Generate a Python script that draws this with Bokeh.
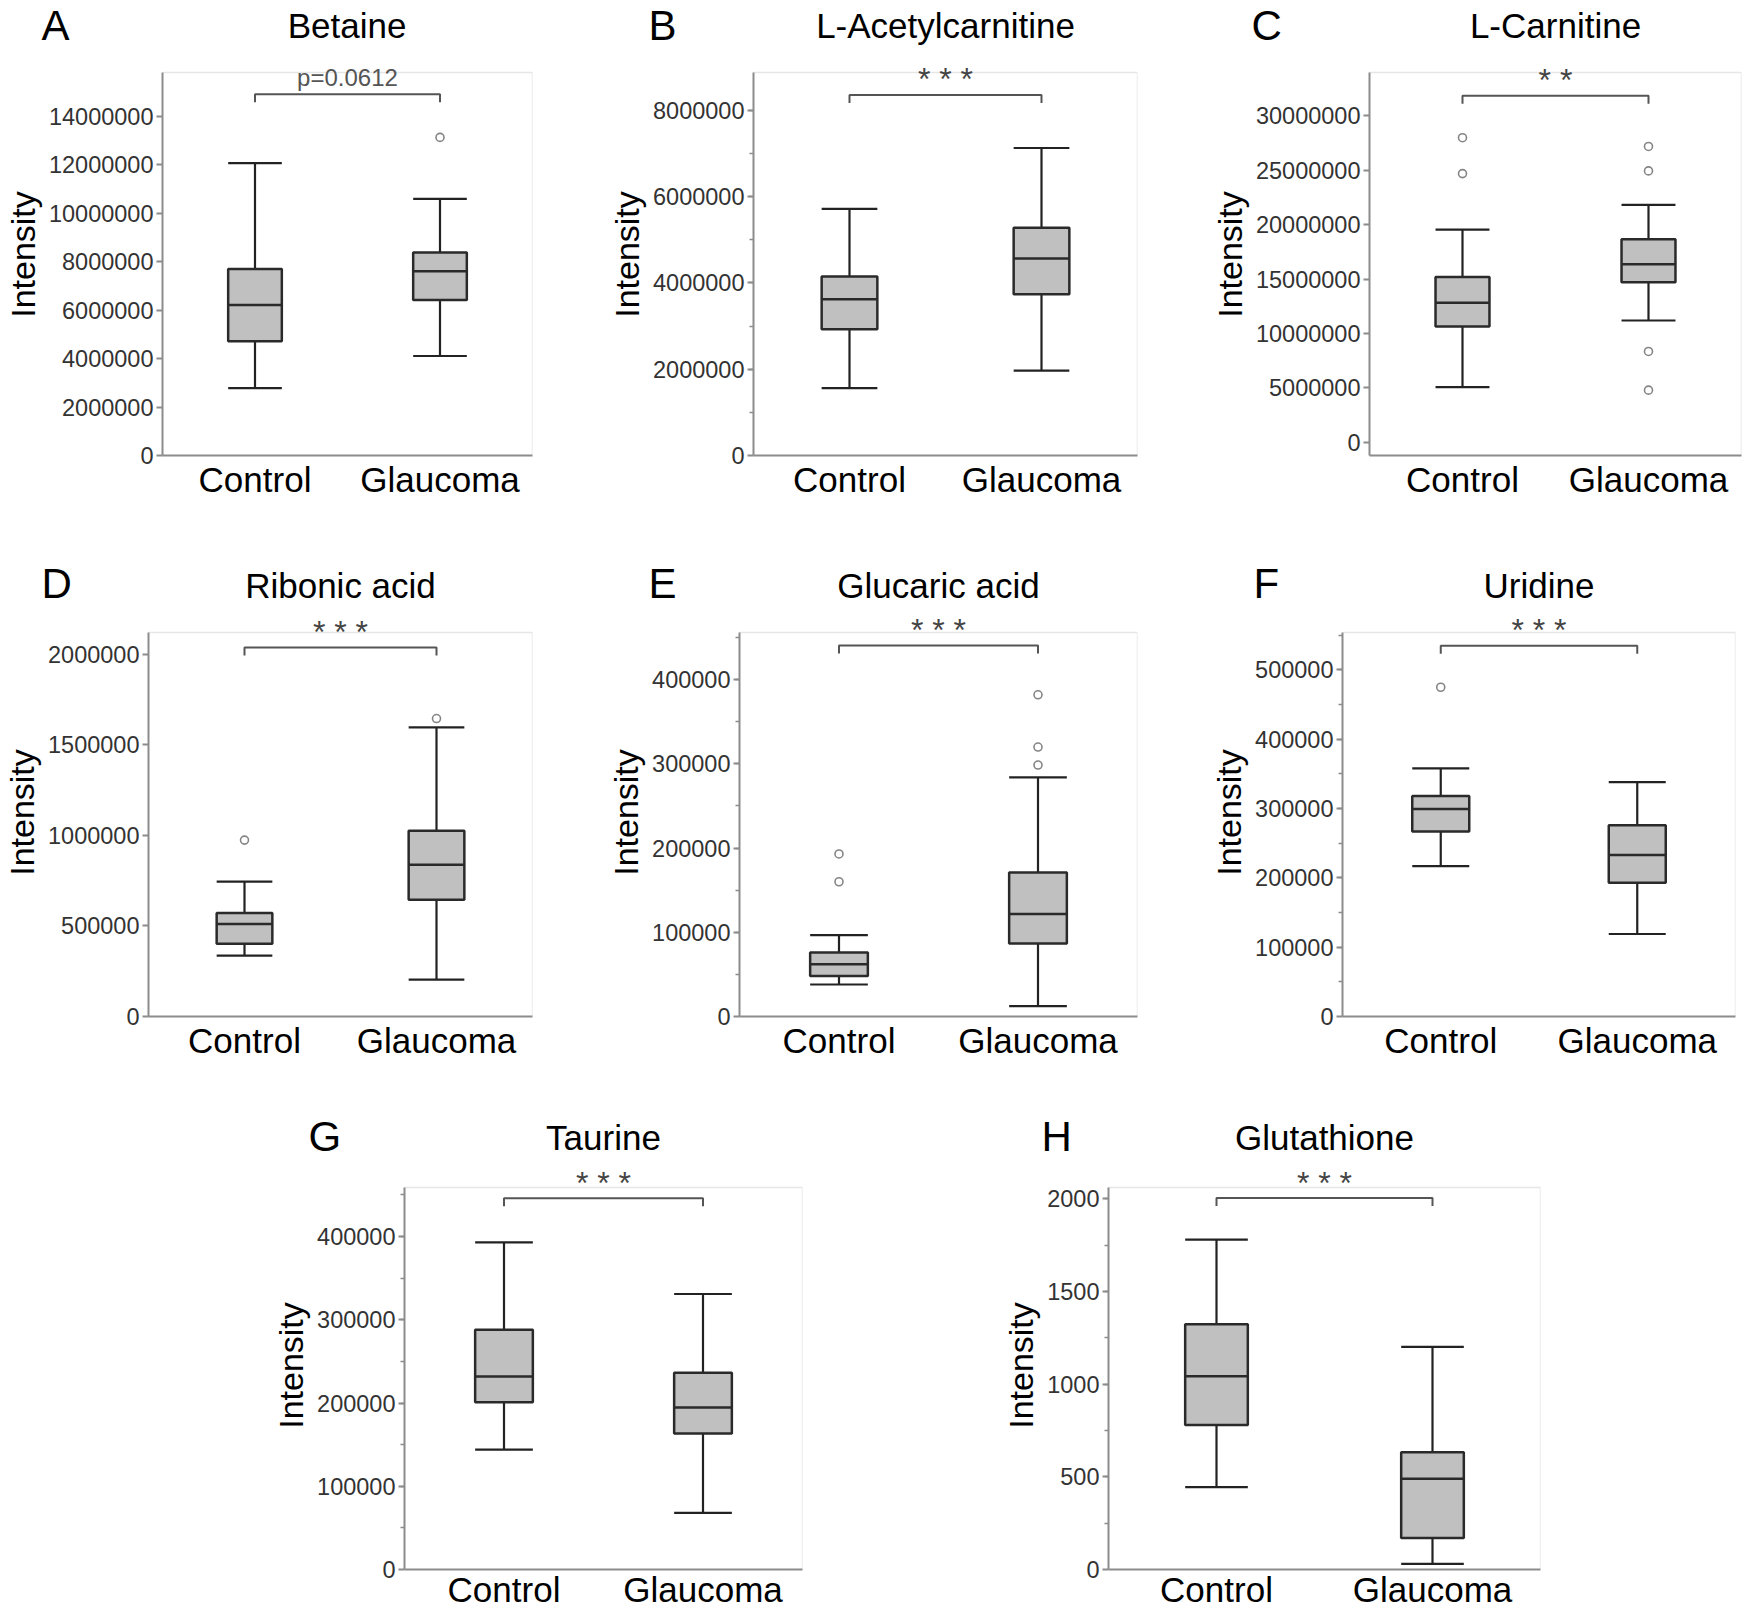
from bokeh.plotting import figure
from bokeh.models import (FactorRange, Range1d, FixedTicker, NumeralTickFormatter,
                          Label, Spacer, ColumnDataSource)
from bokeh.transform import dodge
from bokeh.layouts import row, column
from bokeh.embed import file_html
from bokeh.resources import INLINE
from bokeh.core.properties import value

# ---------------- data ----------------
categories = ["Control", "Glaucoma"]
panel_letters = ["A", "B", "C", "D", "E", "F", "G", "H"]
metabolites = ["Betaine", "L-Acetylcarnitine", "L-Carnitine", "Ribonic acid",
               "Glucaric acid", "Uridine", "Taurine", "Glutathione"]
significance = ["p=0.0612", "* * *", "* *", "* * *", "* * *", "* * *", "* * *", "* * *"]

control_whisker_low = [2.78e6, 1.56e6, 5.06e6, 336000, 38000, 217000, 144000, 444]
control_q1 = [4.72e6, 2.93e6, 10.63e6, 401000, 48000, 267000, 201000, 780]
control_median = [6.22e6, 3.62e6, 12.81e6, 511000, 62000, 299500, 232000, 1043]
control_q3 = [7.70e6, 4.15e6, 15.2e6, 572000, 76000, 318000, 288000, 1323]
control_whisker_high = [12.08e6, 5.72e6, 19.55e6, 745000, 96600, 358000, 393000, 1780]
control_outliers = [[], [], [28.0e6, 24.7e6], [974000], [193000, 160000], [475000], [], []]

glaucoma_whisker_low = [4.11e6, 1.97e6, 11.19e6, 204000, 12300, 119000, 68000, 30]
glaucoma_q1 = [6.42e6, 3.74e6, 14.71e6, 645000, 86700, 193000, 163500, 170]
glaucoma_median = [7.61e6, 4.57e6, 16.37e6, 838000, 121700, 233000, 194600, 489]
glaucoma_q3 = [8.39e6, 5.28e6, 18.66e6, 1026000, 171000, 276000, 236500, 633]
glaucoma_whisker_high = [10.6e6, 7.13e6, 21.82e6, 1596000, 284000, 338000, 331000, 1201]
glaucoma_outliers = [[13.14e6], [], [27.2e6, 24.95e6, 8.34e6, 4.78e6], [1645000],
                     [382000, 320000, 298600], [], [], []]

# y axis ticks (labels) per panel
y_tick_step = [2000000, 2000000, 5000000, 500000, 100000, 100000, 100000, 500]
y_tick_max = [14000000, 8000000, 30000000, 2000000, 400000, 500000, 400000, 2000]
y_minor_step = [None, 1000000, None, None, 50000, 50000, 50000, 250]

# ---------------- layout / style config ----------------
y_axis_bottom = [0, 0, -1.23e6, 0, 0, 0, 0, 0]
y_axis_top = [15.82e6, 8.88e6, 34.0e6, 2.12e6, 456000, 554000, 459000, 2061]
bracket_y = [14.92e6, 8.36e6, 31.87e6, 2.037e6, 440500, 535000, 446000, 2004]

PAGE_W = 1750
# per panel (page px): fig_left, fig_width, frame_left, frame_right
cols = [(0, 595, 161, 532), (595, 600, 753, 1137), (1195, 555, 1369, 1741),
        (0, 595, 148, 532), (595, 600, 739, 1137), (1195, 555, 1342, 1735),
        (250, 650, 404, 802), (900, 850, 1108, 1540)]
# per row: header_top, header_h, panel_top, panel_h, axis_top_px, frame_bottom_px,
#          xlabel standoff, star offset (px above bracket)
rows_geo = [(0, 53, 53, 477, 72, 455, 4, 16),
            (530, 78, 608, 482, 632, 1016, 4, 16),
            (1090, 71, 1161, 450, 1187, 1570, 0, 15)]
panel_row = [0, 0, 0, 1, 1, 1, 2, 2]
# letter: left x, vertical centre (page px); title vertical centre
letter_pos = [(41, 25), (648, 25), (1251, 25), (41, 583), (648, 583), (1253, 583),
              (308, 1136), (1041, 1136)]
title_center_y = [24.5, 24.5, 24.5, 585, 585, 585, 1137, 1137]

FONT = "Liberation Sans"
AXIS_GRAY = "#8c8c8c"
BOX_W = 0.29


def make_header(r):
    ht, hh = rows_geo[r][0], rows_geo[r][1]
    idx = [i for i in range(8) if panel_row[i] == r]
    h = figure(width=PAGE_W, height=hh, x_range=Range1d(0, PAGE_W), y_range=Range1d(hh, 0),
               output_backend="svg", toolbar_location=None, x_axis_type=None, y_axis_type=None,
               min_border=0, min_border_left=0, min_border_right=0, min_border_top=0,
               min_border_bottom=0)
    h.outline_line_color = None
    h.grid.visible = False
    h.text(x=[letter_pos[i][0] for i in idx], y=[letter_pos[i][1] - ht for i in idx],
           text=[panel_letters[i] for i in idx], text_font=value(FONT), text_font_size="42px",
           text_align="left", text_baseline="middle", text_color="black")
    h.text(x=[(cols[i][2] + cols[i][3]) / 2 for i in idx],
           y=[title_center_y[i] - ht for i in idx],
           text=[metabolites[i] for i in idx], text_font=value(FONT), text_font_size="35px",
           text_align="center", text_baseline="middle", text_color="black")
    return h


def make_panel(i):
    fl, fw, frl, frr = cols[i]
    _, _, pt, ph, at, frb, xstand, star_off = rows_geo[panel_row[i]]
    ybot, ytop = y_axis_bottom[i], y_axis_top[i]
    px = (ytop - ybot) / (frb - at)
    yend = ytop + (at - pt) * px
    p = figure(width=fw, height=ph,
               x_range=FactorRange(*categories),
               y_range=Range1d(ybot, yend),
               output_backend="svg", toolbar_location=None,
               min_border_left=frl - fl, min_border_right=fl + fw - frr,
               min_border_top=0, min_border_bottom=pt + ph - frb)
    p.xgrid.visible = False
    p.ygrid.visible = False
    p.outline_line_color = None
    p.background_fill_color = "white"
    p.border_fill_color = "white"

    # y axis
    yax = p.yaxis[0]
    majors = list(range(0, y_tick_max[i] + 1, y_tick_step[i]))
    minors = []
    if y_minor_step[i]:
        v = y_minor_step[i]
        while v <= ytop:
            minors.append(v)
            v += y_minor_step[i]
    yax.ticker = FixedTicker(ticks=majors, minor_ticks=minors)
    yax.bounds = (ybot, ytop)
    yax.formatter = NumeralTickFormatter(format="0")
    yax.axis_label = "Intensity"
    yax.axis_label_text_font = FONT
    yax.axis_label_text_font_size = "34px"
    yax.axis_label_text_font_style = "normal"
    yax.axis_label_text_color = "black"
    yax.axis_label_standoff = 4
    yax.major_label_text_font = FONT
    yax.major_label_text_font_size = "23.5px"
    yax.major_label_text_color = "#333333"
    yax.major_label_standoff = 3
    yax.axis_line_color = AXIS_GRAY
    yax.axis_line_width = 2
    yax.major_tick_line_color = AXIS_GRAY
    yax.major_tick_line_width = 2
    yax.major_tick_out = 6
    yax.major_tick_in = 0
    yax.minor_tick_line_color = AXIS_GRAY if minors else None
    yax.minor_tick_line_width = 1.5
    yax.minor_tick_out = 4
    yax.minor_tick_in = 0

    # x axis
    xax = p.xaxis[0]
    xax.axis_line_color = AXIS_GRAY
    xax.axis_line_width = 2
    xax.major_tick_line_color = None
    xax.minor_tick_line_color = None
    xax.major_tick_out = 0
    xax.major_tick_in = 0
    xax.major_label_text_font = FONT
    xax.major_label_text_font_size = "35px"
    xax.major_label_text_color = "black"
    xax.major_label_standoff = xstand

    # faint frame (top and right)
    p.line(x=[0, 2, 2], y=[ytop, ytop, ybot], line_color="#e6e6e6", line_width=1.5)

    src = ColumnDataSource(dict(
        x=categories,
        low=[control_whisker_low[i], glaucoma_whisker_low[i]],
        q1=[control_q1[i], glaucoma_q1[i]],
        med=[control_median[i], glaucoma_median[i]],
        q3=[control_q3[i], glaucoma_q3[i]],
        high=[control_whisker_high[i], glaucoma_whisker_high[i]],
    ))
    left = dodge("x", -BOX_W / 2, range=p.x_range)
    right = dodge("x", BOX_W / 2, range=p.x_range)
    wl = dict(line_color="#222222", line_width=2.2)
    p.segment(x0="x", y0="q3", x1="x", y1="high", source=src, **wl)
    p.segment(x0="x", y0="low", x1="x", y1="q1", source=src, **wl)
    p.segment(x0=left, y0="high", x1=right, y1="high", source=src, **wl)
    p.segment(x0=left, y0="low", x1=right, y1="low", source=src, **wl)
    p.vbar(x="x", width=BOX_W, bottom="q1", top="q3", source=src,
           fill_color="#c0c0c0", line_color="#2a2a2a", line_width=2.5)
    p.segment(x0=left, y0="med", x1=right, y1="med", source=src,
              line_color="#2a2a2a", line_width=2.5)

    ox = ["Control"] * len(control_outliers[i]) + ["Glaucoma"] * len(glaucoma_outliers[i])
    oy = list(control_outliers[i]) + list(glaucoma_outliers[i])
    if oy:
        p.scatter(x=ox, y=oy, marker="circle", size=8, fill_color="white",
                  line_color="#858585", line_width=1.6)

    # significance bracket and label
    b = bracket_y[i]
    t = 8 * px
    p.line(x=["Control", "Control", "Glaucoma", "Glaucoma"], y=[b - t, b, b, b - t],
           line_color="#555555", line_width=2)
    if i == 0:
        p.add_layout(Label(x=1.0, y=b + 17 * px, x_units="data", y_units="data",
                           text=significance[i], text_align="center",
                           text_baseline="middle", text_font=FONT,
                           text_font_size="24px", text_color="#555555"))
    else:
        p.add_layout(Label(x=1.0, y=b + star_off * px, x_units="data", y_units="data",
                           text=significance[i], text_align="center",
                           text_baseline="middle", text_font=FONT,
                           text_font_size="32px", text_color="#444444"))
    return p


figs = [make_panel(i) for i in range(8)]
headers = [make_header(r) for r in range(3)]
layout = column(
    headers[0],
    row(figs[0], figs[1], figs[2]),
    headers[1],
    row(figs[3], figs[4], figs[5]),
    headers[2],
    row(Spacer(width=250, height=450), figs[6], figs[7]),
)

open("out.html", "w").write(file_html(layout, INLINE))
